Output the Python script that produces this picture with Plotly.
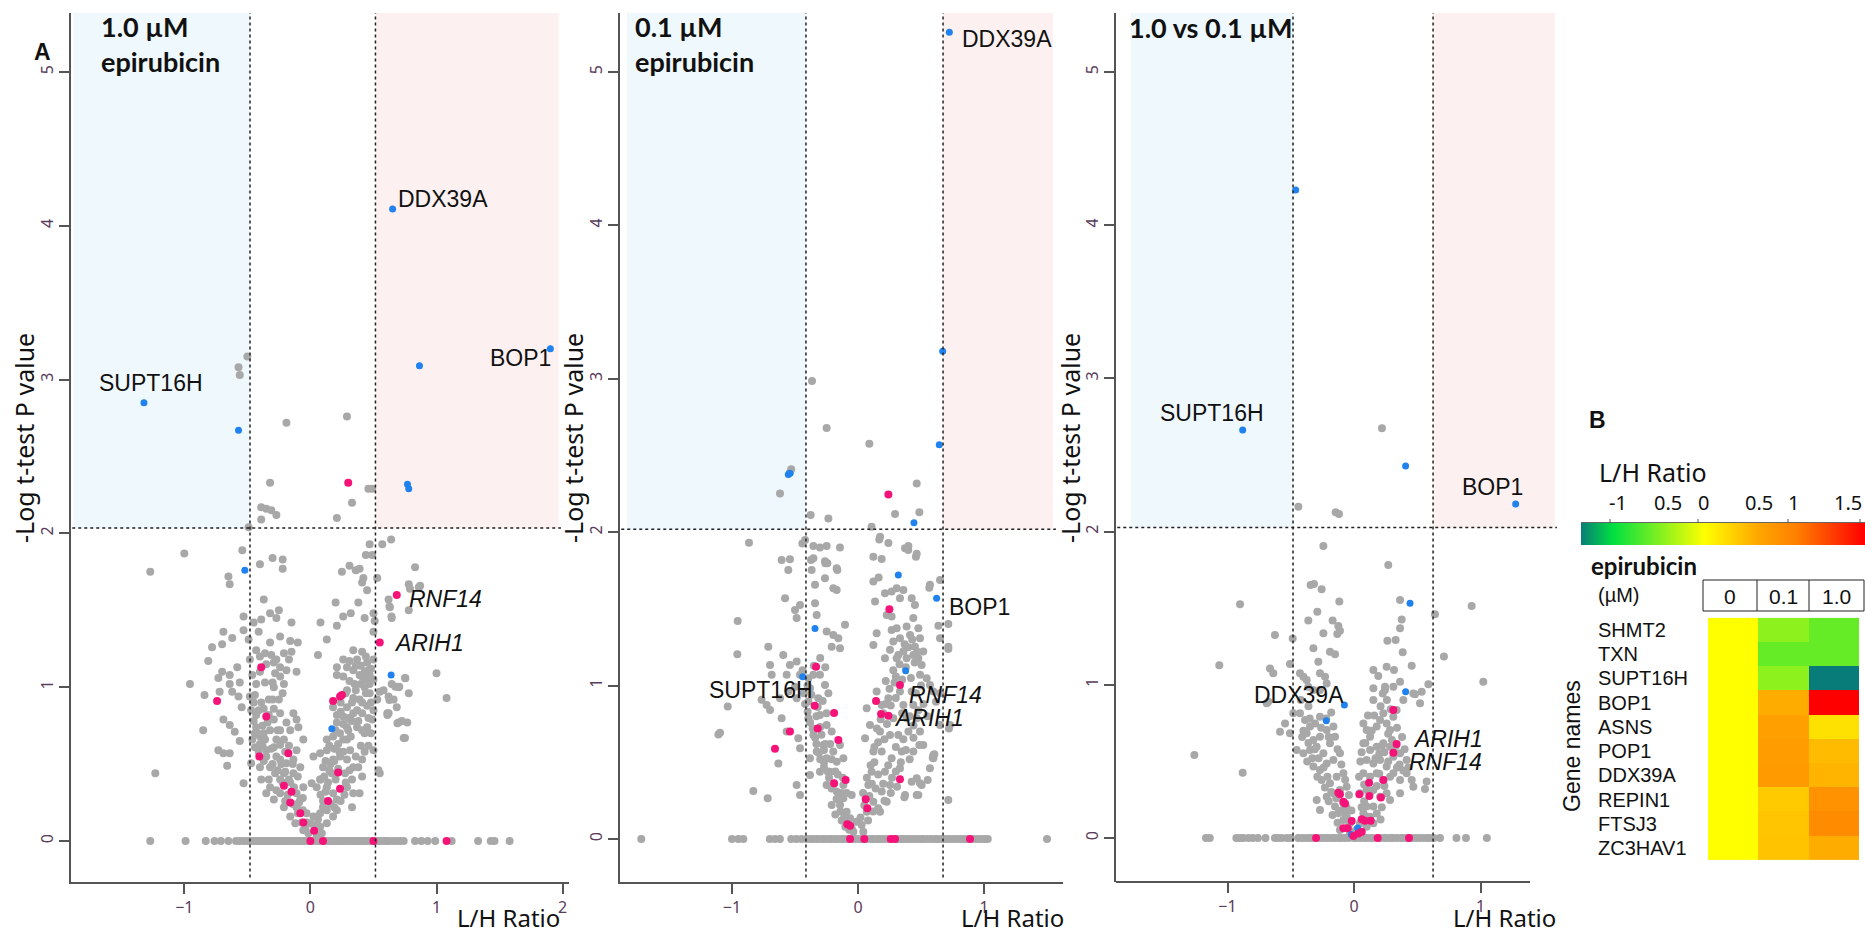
import plotly.graph_objects as go

W, H = 1865, 935
def fx(p):
    return p / W
def fy(p):
    return 1 - p / H

# ---------------- DATA ----------------
# Panel 1: 1.0 uM epirubicin  (L/H ratio, -log p)
p1_grey = [(-0.57,3.08),(-0.56,3.03),(-0.50,3.15),(-0.19,2.72),(0.29,2.76),
(-0.32,2.33),(0.33,2.20),(0.46,2.29),(0.49,2.29),(-0.39,2.17),(-0.35,2.16),(-0.31,2.15),(-0.27,2.12),(-0.39,2.09),(0.21,2.10),(-0.49,2.04),
(-1.27,1.75),(-1.23,0.44),(-1.00,1.87),(-0.54,1.89),(-0.40,1.80),(-0.30,1.84),(-0.22,1.83),(-0.22,1.77),(-0.65,1.72),(-0.64,1.67),(0.47,1.93),(0.57,1.93),(0.64,1.96),(0.49,1.86),(0.44,1.86),(0.83,1.78),(0.25,1.75),(0.31,1.79),(0.36,1.76),(0.53,1.71),(0.78,1.67),(0.86,1.65),(1.00,1.09),(1.08,0.93),(0.74,0.67),
(0.62,1.57),(0.63,1.52),(0.645,1.45),(0.78,1.50),(0.79,1.64),(0.87,1.66),(0.45,1.63),(0.41,1.68),(0.42,1.71),(0.39,1.77),
(-0.53,1.46),(-0.53,1.37),(-0.45,1.42),(-0.37,1.57),(-0.32,1.48),(-0.27,1.45),(-0.25,1.50),(-0.39,1.44),(-0.15,1.42),(0.08,1.42),(0.20,1.55),(0.38,1.55),(0.26,1.46),(0.32,1.48),(0.21,1.40),(0.13,1.31),(0.43,1.45),(0.50,1.48),(0.51,1.43),(0.50,1.36),(-0.69,1.36),(-0.62,1.32),(-0.70,1.28),(-0.78,1.26),(-0.81,1.17),(-0.41,1.36),(-0.49,1.31),(-0.32,1.29),(-0.24,1.33),(-0.16,1.30),(-0.10,1.29),
(-0.43,1.24),(-0.40,1.20),(-0.36,1.22),(-0.31,1.21),(-0.27,1.18),(-0.21,1.22),(-0.17,1.18),(-0.15,1.23),(-0.24,1.13),(-0.29,1.16),(-0.28,1.09),(-0.19,1.11),(-0.11,1.10),(-0.48,1.18),(-0.58,1.13),(-0.64,1.08),(-0.70,1.10),(-0.73,1.06),(-0.56,1.03),(0.06,1.21),(0.21,1.13),(0.26,1.18),(0.29,1.13),(0.31,1.17),(0.34,1.11),(0.37,1.18),(0.41,1.23),(0.34,1.24),(0.45,1.16),(0.50,1.18),(0.46,1.11),(0.39,1.08),(0.21,1.08),(0.26,1.07),(0.41,1.07),(0.75,1.06),(0.58,0.98),(0.645,1.02),
(-0.955,1.02),(-0.84,0.95),(-0.72,0.97),(-0.64,1.02),(-0.62,0.97),(-0.57,0.94),(-0.545,0.87),(-0.48,0.94),(-0.43,1.02),(-0.36,1.03),(-0.24,1.07),(-0.21,1.02),(-0.29,1.00),(-0.37,0.86),(-0.33,0.92),(-0.25,0.92),(0.18,0.87),(0.21,0.82),(0.26,0.81),(0.29,0.87),(0.34,0.93),(0.39,0.92),(0.43,1.00),(0.47,0.96),(0.53,0.92),(0.55,0.97),(0.62,0.94),(0.66,0.92),(0.70,1.00),(0.78,0.96),(0.62,0.83),(0.685,0.87),
(-0.85,0.72),(-0.69,0.79),(-0.64,0.755),(-0.60,0.71),(-0.56,0.65),(-0.47,0.85),(-0.43,0.82),(-0.29,0.79),(-0.24,0.83),(-0.19,0.77),(-0.135,0.83),(-0.11,0.79),(-0.43,0.74),(-0.37,0.70),(-0.32,0.72),(-0.24,0.72),(-0.16,0.72),(-0.095,0.74),(-0.40,0.68),(-0.056,0.66),(0.21,0.77),(0.235,0.70),(0.29,0.74),(0.315,0.79),(0.37,0.74),(0.41,0.72),(0.45,0.74),(0.49,0.79),(0.50,0.85),(0.41,0.83),(0.34,0.83),(0.61,0.83),(0.70,0.77),(0.725,0.78),(0.75,0.67),(0.13,0.66),(0.18,0.68),(0.29,0.66),(0.43,0.70),
(-0.73,0.59),(-0.69,0.57),(-0.64,0.57),(-0.66,0.49),(-0.47,0.505),(-0.44,0.61),(-0.35,0.59),(-0.29,0.61),(-0.24,0.625),(-0.11,0.59),(-0.40,0.48),(-0.32,0.48),(-0.24,0.53),(-0.19,0.505),(-0.135,0.53),(-0.08,0.48),(-0.28,0.44),(-0.21,0.44),(-0.135,0.44),(0.024,0.55),(0.077,0.57),(0.13,0.59),(0.10,0.48),(0.18,0.53),(0.235,0.55),(0.29,0.53),(0.315,0.59),(0.34,0.48),(0.41,0.53),(0.50,0.59),(0.55,0.44),(0.54,0.46),(0.17,0.44),(0.275,0.44),
(-0.53,0.375),(-0.39,0.40),(-0.32,0.35),(-0.24,0.40),(-0.35,0.31),(-0.29,0.27),(-0.24,0.31),(-0.11,0.31),(-0.056,0.35),(0.01,0.375),(-0.08,0.27),(0.077,0.40),(0.13,0.35),(0.18,0.31),(0.29,0.35),(0.34,0.31),(0.39,0.31),(0.41,0.42),(0.33,0.22),(0.21,0.27),(0.10,0.22),(-0.21,0.22),(-0.11,0.22),
(-0.16,0.16),(-0.12,0.115),(-0.03,0.18),(0.0,0.115),(0.024,0.16),(0.077,0.18),(0.13,0.20),(0.077,0.093),(0.13,0.115),(0.18,0.16),(0.21,0.20),(0.05,0.03),(-0.016,0.05),(-0.056,0.07),(0.09,0.05),
(0.674,1.003),(0.705,1.003),(0.627,0.917),(0.611,0.82),(0.69,0.765),(0.768,0.77),(0.753,1.058),(0.643,1.459),(0.627,1.524),
(-0.45,0.78),(-0.42,0.70),(-0.38,0.62),(-0.35,0.55),(-0.30,0.50),(-0.26,0.46),(-0.22,0.38),(-0.18,0.30),(-0.14,0.24),(-0.10,0.18),(-0.07,0.12),(-0.04,0.08),(-0.46,0.66),(-0.41,0.58),(-0.37,0.52),(-0.33,0.40),(-0.27,0.33),(-0.20,0.26),(-0.16,0.38),(-0.20,0.58),(-0.27,0.66),(-0.34,0.77),(-0.39,0.90),(-0.44,0.95),(-0.46,1.08),(-0.40,1.10),(-0.35,1.15),(-0.30,1.03),
(0.03,0.10),(0.06,0.14),(0.10,0.26),(0.14,0.38),(0.16,0.50),(0.19,0.60),(0.22,0.63),(0.26,0.76),(0.30,0.80),(0.33,0.90),(0.36,0.98),(0.40,1.02),(0.44,1.05),(0.47,1.02),(0.48,0.90),(0.46,0.80),(0.38,0.78),(0.32,0.68),(0.26,0.58),(0.22,0.47),(0.20,0.40),(0.16,0.24),(0.12,0.32),(0.24,0.90),(0.28,0.96),(0.31,1.04),(0.36,1.14),(0.43,1.10),(0.48,1.12),(0.50,1.05),(0.45,0.88),(0.40,0.62),(0.36,0.55),(0.31,0.46),(0.27,0.30),
(-0.44,0.70),(-0.40,0.63),(-0.36,0.66),(-0.31,0.60),(-0.27,0.55),(-0.23,0.50),(-0.20,0.45),(-0.17,0.40),(-0.13,0.35),(-0.09,0.25),(-0.06,0.20),(-0.03,0.12),(-0.38,0.75),(-0.33,0.82),(-0.29,0.86),(-0.26,0.72),(-0.21,0.66),(-0.17,0.62),(-0.14,0.50),(-0.10,0.42),(-0.06,0.28),(-0.45,0.90),(-0.41,0.85),(-0.30,0.92),(-0.22,0.96),
(0.05,0.35),(0.08,0.30),(0.11,0.42),(0.15,0.46),(0.19,0.52),(0.23,0.58),(0.26,0.66),(0.30,0.72),(0.33,0.78),(0.37,0.85),(0.41,0.90),(0.44,0.96),(0.47,1.08),(0.44,1.20),(0.40,1.14),(0.35,1.02),(0.29,0.98),(0.24,0.84),(0.20,0.72),(0.15,0.62),(0.12,0.52),(0.08,0.40),(0.48,0.70),(0.46,0.62),(0.43,0.58),(0.38,0.48),(0.33,0.40),(0.28,0.38),(0.24,0.26),(0.19,0.22)]
p1_zero_x = [-1.27,-0.99,-0.83,-0.76,-0.71,-0.65,-0.59,-0.56,-0.53,-0.50,-0.48,-0.46,-0.44,-0.42,-0.40,-0.38,-0.36,-0.34,-0.32,-0.30,-0.28,-0.26,-0.24,-0.22,-0.20,-0.18,-0.16,-0.14,-0.12,-0.10,-0.08,-0.06,-0.04,-0.02,0.02,0.05,0.07,0.12,0.14,0.16,0.18,0.20,0.22,0.24,0.26,0.28,0.30,0.32,0.34,0.36,0.38,0.40,0.42,0.44,0.46,0.48,0.53,0.55,0.58,0.60,0.62,0.65,0.68,0.71,0.74,0.83,0.88,0.93,0.99,1.12,1.33,1.43,1.46,1.58]
p1_blue = [(-1.32,2.85),(-0.57,2.67),(0.652,4.11),(0.865,3.09),(1.903,3.20),(0.77,2.32),(0.78,2.29),(-0.52,1.76),(0.64,1.08),(0.17,0.73)]
p1_pink = [(0.30,2.33),(0.685,1.60),(0.55,1.29),(-0.39,1.13),(-0.74,0.91),(0.18,0.91),(0.235,0.94),(0.25,0.95),(-0.35,0.81),(-0.405,0.55),(-0.175,0.57),(0.22,0.445),(-0.21,0.36),(-0.15,0.32),(-0.16,0.25),(0.14,0.26),(0.235,0.34),(-0.08,0.18),(-0.056,0.12),(0.03,0.067),(0.0,0),(0.10,0),(0.50,0),(1.08,0)]

# Panel 2: 0.1 uM epirubicin
p2_grey = [(-0.365,2.985),(-0.249,2.68),(0.09,2.577),(-0.53,2.41),(-0.54,2.39),(-0.619,2.253),(0.466,2.318),(0.294,2.119),(0.487,2.13),(-0.376,2.112),(-0.235,2.09),(0.108,2.036),
(-0.865,1.932),(-0.606,1.819),(-0.54,1.823),(-0.553,1.754),(-0.442,1.927),(-0.302,1.901),(-0.143,1.901),(-0.373,1.819),(-0.259,1.797),(-0.243,1.797),(-0.164,1.754),(-0.368,1.754),(0.169,1.953),(0.122,1.84),(0.188,1.825),(0.373,1.895),(0.399,1.884),(0.46,1.84),(0.164,1.704),(0.651,1.688),(0.566,1.638),(0.638,1.391),(0.717,1.402),(0.717,1.239),(-0.955,1.421),(-0.958,1.204),(-1.034,0.863),(-1.108,0.682),(-0.831,0.313),(-0.717,0.265),(0.717,0.254),(0.722,0.721),
(-0.42,1.95),(-0.354,1.91),(-0.354,1.83),(-0.262,1.81),(-0.249,1.91),(-0.169,1.765),(-0.262,1.70),(-0.196,1.635),(-0.169,1.624),(-0.341,1.657),(-0.579,1.57),(-0.50,1.493),(-0.487,1.44),(-0.341,1.537),(-0.328,1.46),(-0.46,1.526),(-0.103,1.396),(-0.249,1.352),(-0.196,1.33),(-0.156,1.309),(-0.143,1.243),(-0.209,1.254),(0.175,1.97),(0.241,1.93),(0.4,1.91),(0.466,1.86),(0.122,1.678),(0.214,1.602),(0.267,1.613),(0.307,1.635),(0.36,1.624),(0.333,1.57),(0.426,1.57),(0.452,1.526),(0.439,1.44),(0.571,1.657),(0.135,1.548),(0.228,1.46),(0.267,1.45),(0.148,1.341),(0.122,1.265),(0.267,1.363),(0.307,1.374),(0.386,1.385),(0.28,1.287),(0.333,1.309),(0.413,1.33),(0.492,1.309),(0.479,1.374),(0.452,1.254),(0.254,1.233),(0.214,1.178),(0.307,1.178),(0.36,1.222),(0.386,1.178),(0.439,1.2),(0.479,1.178),(0.505,1.135),(0.518,1.222),(0.651,1.309),(0.717,1.254),
(-1.095,0.693),(-0.712,1.254),(-0.698,1.135),(-0.593,1.2),(-0.54,1.135),(-0.566,1.07),(-0.685,1.07),(-0.765,0.907),(-0.725,0.874),(-0.698,0.841),(-0.619,0.917),(-0.606,0.787),(-0.553,0.961),(-0.50,0.993),(-0.487,0.917),(-0.46,1.07),(-0.487,1.157),(-0.394,1.048),(-0.354,1.07),(-0.381,0.983),(-0.302,1.07),(-0.262,1.004),(-0.235,0.95),(-0.315,0.917),(-0.566,0.70),(-0.474,0.657),(-0.46,0.591),(-0.632,0.493),(-0.487,0.352),(-0.46,0.287),(-0.394,0.896),(-0.394,0.787),(-0.354,0.678),(-0.302,0.809),(-0.249,0.743),(-0.209,0.70),(-0.275,0.613),(-0.381,0.526),(-0.328,0.57),(-0.249,0.526),(-0.196,0.57),(-0.143,0.613),(-0.381,0.417),(-0.302,0.439),(-0.222,0.439),(-0.169,0.504),(-0.116,0.526),(-0.249,0.352),(-0.169,0.309),(-0.116,0.352),(-0.209,0.222),(-0.143,0.222),(-0.09,0.178),(-0.063,0.135),(-0.116,0.265),(-0.05,0.287),(-0.011,0.113),(-0.037,0.048),
(0.069,0.852),(0.095,0.743),(0.056,0.657),(0.122,0.57),(0.108,0.439),(0.082,0.352),(0.122,0.243),(0.069,0.178),(0.029,0.091),(0.042,0.048),(0.148,0.961),(0.188,0.874),(0.175,0.70),(0.188,0.57),(0.214,0.439),(0.188,0.309),(0.241,0.917),(0.28,0.787),(0.254,0.678),(0.267,0.526),(0.254,0.352),(0.175,0.178),(0.333,0.961),(0.36,0.874),(0.386,0.787),(0.32,0.678),(0.347,0.57),(0.333,0.461),(0.426,0.961),(0.439,0.874),(0.466,0.787),(0.492,0.70),(0.518,0.613),(0.439,0.57),(0.492,1.07),(0.545,1.048),(0.571,1.004),(0.598,0.961),(0.598,0.548),(0.598,0.526),(0.571,0.461),(0.466,0.396),(0.505,0.352),(0.373,0.287),(0.466,0.287),(0.228,0.243),(0.73,0.743),(0.651,0.743),(0.368,0.272),(0.479,0.287),(0.553,0.385),(0.426,0.374),(0.492,0.363),(0.593,0.53),(0.606,0.552),(0.487,0.613),(0.651,0.95),(0.619,0.895),
(-0.18,0.16),(-0.13,0.12),(-0.10,0.08),(-0.07,0.06),(-0.15,0.28),(-0.19,0.36),(-0.23,0.40),(-0.27,0.47),(-0.30,0.52),(-0.33,0.62),(-0.36,0.72),(-0.40,0.83),(-0.43,0.95),(-0.27,0.58),(-0.22,0.62),(-0.18,0.44),(-0.12,0.40),(-0.09,0.30),(-0.32,0.86),(-0.28,0.90),(-0.25,0.82),(-0.30,0.73),(-0.40,1.00),(-0.35,1.13),(-0.30,1.18),(-0.26,1.12),
(0.02,0.14),(0.05,0.22),(0.09,0.28),(0.14,0.33),(0.16,0.42),(0.13,0.50),(0.16,0.63),(0.21,0.65),(0.23,0.75),(0.20,0.82),(0.26,0.87),(0.30,0.92),(0.29,1.02),(0.35,1.04),(0.38,1.12),(0.42,1.05),(0.45,1.15),(0.40,0.70),(0.36,0.65),(0.30,0.60),(0.24,0.48),(0.27,0.40),(0.31,0.34),(0.20,0.36),(0.40,1.25),(0.33,1.14),(0.28,1.10),(0.22,1.03),(0.46,0.95),(0.52,0.88),(0.55,0.80),(0.41,0.52),(0.08,0.12),(0.12,0.18),
(-0.42,0.88),(-0.38,0.76),(-0.34,0.66),(-0.31,0.56),(-0.27,0.50),(-0.24,0.44),(-0.21,0.33),(-0.17,0.26),(-0.14,0.18),(-0.11,0.14),(-0.08,0.10),(-0.05,0.07),(-0.44,1.10),(-0.37,0.94),(-0.33,0.80),(-0.29,0.68),(-0.26,0.62),(-0.21,0.52),(-0.16,0.42),(-0.13,0.30),
(0.04,0.30),(0.07,0.40),(0.10,0.48),(0.13,0.60),(0.15,0.72),(0.18,0.78),(0.22,0.88),(0.25,0.98),(0.30,1.06),(0.32,1.20),(0.37,1.27),(0.43,1.30),(0.47,1.22),(0.50,1.00),(0.48,0.84),(0.44,0.66),(0.38,0.58),(0.34,0.50),(0.30,0.44),(0.26,0.30),(0.21,0.25),(0.16,0.20),(0.11,0.36),(0.35,0.82),(0.41,0.80),(0.44,0.74)]
p2_zero_x = [-1.72,-1.00,-0.95,-0.91,-0.70,-0.66,-0.62,-0.53,-0.49,-0.45,-0.41,-0.38,-0.36,-0.33,-0.31,-0.28,-0.26,-0.23,-0.21,-0.18,-0.16,-0.13,-0.11,-0.08,-0.04,-0.02,0.01,0.03,0.07,0.10,0.12,0.15,0.17,0.20,0.23,0.28,0.31,0.34,0.36,0.39,0.41,0.44,0.47,0.50,0.52,0.55,0.58,0.61,0.63,0.66,0.69,0.72,0.75,0.78,0.81,0.84,0.86,0.92,0.95,0.98,1.01,1.03,1.50]
p2_blue = [(0.725,5.26),(0.672,3.18),(0.645,2.57),(-0.553,2.377),(-0.54,2.384),(0.444,2.062),(0.32,1.721),(0.624,1.569),(-0.341,1.373),(-0.439,1.058),(0.378,1.097)]
p2_pink = [(0.241,2.245),(0.249,1.497),(-0.333,1.123),(0.333,1.004),(-0.344,0.869),(-0.19,0.821),(0.143,0.90),(0.183,0.815),(0.241,0.804),(-0.32,0.721),(-0.54,0.70),(-0.659,0.589),(-0.156,0.645),(-0.19,0.363),(-0.098,0.385),(0.333,0.389),(0.061,0.259),(0.074,0.20),(-0.085,0.096),(-0.063,0.087),(-0.063,0),(0.05,0),(0.26,0),(0.294,0),(0.889,0)]

# Panel 3: 1.0 vs 0.1 uM
p3_grey = [(0.221,2.674),(-0.44,2.163),(-0.145,2.126),(-0.119,2.115),(-0.242,1.906),(0.271,1.782),(-0.343,1.651),(-0.316,1.658),(-0.256,1.623),(-0.901,1.525),(-0.116,1.543),(0.93,1.514),(0.364,1.553),(-0.29,1.477),(-0.361,1.419),(-0.169,1.419),(0.377,1.427),(0.64,1.46),(-0.124,1.384),(-0.111,1.353),(-0.132,1.332),(-0.242,1.336),(-0.625,1.325),(-0.485,1.303),(0.364,1.369),(0.264,1.288),(0.329,1.292),(-0.321,1.238),(-0.19,1.216),(-0.15,1.199),(0.711,1.184),(0.385,1.212),(-0.282,1.151),(-0.506,1.136),(-1.065,1.127),(-0.664,1.107),(-0.638,1.075),(0.153,1.097),(0.258,1.118),(0.316,1.097),(0.456,1.125),(0.192,1.057),(0.245,0.988),(1.022,1.02),(0.588,1.003),(0.535,0.955),(0.482,0.938),(0.522,0.879),(0.39,0.901),(0.153,0.977),(0.153,0.901),
(-0.427,1.075),(-0.40,1.053),(-0.374,1.031),(-0.361,0.988),(-0.321,0.966),(-0.269,1.075),(-0.229,1.053),(-0.216,1.009),(-0.269,0.966),(-0.677,0.89),(-0.69,0.879),(-0.585,0.694),(-0.545,0.748),(-1.262,0.542),(-0.88,0.426),(0.574,0.368),(0.561,0.32),
(0.245,0.966),(0.227,0.944),(0.311,0.988),(0.364,1.02),(0.469,0.944),(-0.48,0.814),(-0.506,0.683),
(-0.427,0.814),(-0.387,0.77),(-0.348,0.727),(-0.308,0.748),(-0.269,0.792),(-0.374,0.683),(-0.321,0.64),(-0.269,0.661),(-0.216,0.705),(-0.163,0.727),(-0.453,0.574),(-0.4,0.553),(-0.348,0.574),(-0.295,0.596),(-0.242,0.553),(-0.19,0.618),(-0.15,0.661),(-0.321,0.466),(-0.269,0.444),(-0.216,0.487),(-0.163,0.509),(-0.111,0.553),(-0.256,0.379),(-0.19,0.357),(-0.137,0.4),(-0.084,0.422),(-0.163,0.292),(-0.111,0.313),(-0.058,0.335),(-0.216,0.27),(-0.295,0.248),(-0.269,0.183),(-0.15,0.205),(-0.124,0.161),(-0.084,0.226),(-0.058,0.139),(-0.084,0.117),(-0.045,0.074),(-0.111,0.052),
(0.074,0.748),(0.1,0.705),(0.127,0.661),(0.179,0.727),(0.206,0.77),(0.232,0.814),(0.258,0.748),(0.285,0.705),(0.311,0.792),(0.337,0.836),(0.074,0.618),(0.127,0.574),(0.179,0.596),(0.232,0.618),(0.285,0.596),(0.311,0.531),(0.364,0.553),(0.416,0.509),(0.311,0.422),(0.258,0.466),(0.206,0.509),(0.153,0.487),(0.1,0.509),(0.074,0.422),(0.127,0.4),(0.179,0.422),(0.232,0.379),(0.285,0.4),(0.1,0.313),(0.047,0.292),(0.153,0.313),(0.206,0.27),(0.258,0.292),(0.1,0.205),(0.074,0.161),(0.127,0.139),(0.153,0.205),(0.047,0.096),(0.1,0.074),(0.153,0.096),(0.021,0.052),(0.364,0.379),(0.416,0.422),(0.456,0.379),(0.364,0.292),(0.285,0.248),(0.469,0.335),
(-0.005,0.041),(-0.032,0.03),(0.034,0.03),
(-0.40,0.70),(-0.36,0.62),(-0.33,0.52),(-0.29,0.40),(-0.23,0.33),(-0.20,0.24),(-0.17,0.15),(-0.13,0.10),(-0.06,0.20),(-0.03,0.10),(-0.22,0.78),(-0.18,0.82),(-0.42,0.90),(-0.36,0.86),
(0.06,0.20),(0.08,0.35),(0.05,0.50),(0.12,0.70),(0.16,0.80),(0.21,0.86),(0.26,0.90),(0.29,0.84),(0.34,0.72),(0.38,0.66),(0.34,0.46),(0.40,0.58),(0.20,0.55),(0.24,0.34),(0.18,0.16),(0.22,0.20),
(-0.41,0.66),(-0.35,0.78),(-0.31,0.58),(-0.28,0.52),(-0.24,0.46),(-0.21,0.40),(-0.18,0.30),(-0.14,0.26),(-0.10,0.18),(-0.07,0.16),(-0.37,0.50),(-0.26,0.72),(-0.20,0.66),(-0.13,0.58),(-0.10,0.48),(-0.07,0.38),(-0.04,0.28),(-0.02,0.18),
(0.04,0.40),(0.06,0.56),(0.09,0.62),(0.11,0.80),(0.14,0.70),(0.17,0.52),(0.20,0.42),(0.22,0.60),(0.27,0.68),(0.30,0.64),(0.33,0.60),(0.36,0.48),(0.39,0.44),(0.43,0.46),(0.27,0.50),(0.24,0.56),(0.13,0.30),(0.08,0.24),(0.18,0.34),(0.21,0.12),(0.10,0.14)]
p3_zero_x = [-1.17,-1.14,-0.93,-0.90,-0.875,-0.835,-0.80,-0.76,-0.70,-0.625,-0.60,-0.57,-0.53,-0.50,-0.44,-0.41,-0.38,-0.35,-0.33,-0.27,-0.25,-0.22,-0.20,-0.17,-0.15,-0.12,-0.10,-0.07,-0.04,0.0,0.02,0.05,0.08,0.10,0.13,0.15,0.21,0.24,0.26,0.29,0.31,0.34,0.37,0.39,0.42,0.46,0.49,0.52,0.55,0.58,0.60,0.63,0.68,0.81,0.885,1.05]
p3_blue = [(-0.461,4.23),(-0.88,2.663),(0.408,2.428),(1.278,2.18),(0.443,1.532),(0.408,0.955),(-0.076,0.868),(-0.219,0.766),(0.029,0.065),(-0.021,0.023)]
p3_pink = [(0.311,0.836),(0.337,0.614),(0.311,0.557),(0.119,0.361),(0.232,0.379),(-0.124,0.296),(-0.111,0.285),(-0.084,0.237),(-0.071,0.226),(0.042,0.285),(0.121,0.274),(0.213,0.265),(-0.018,0.111),(0.061,0.122),(0.087,0.113),(0.132,0.113),(-0.084,0.063),(-0.05,0.063),(-0.005,0.013),(0.034,0.03),(0.061,0.041),(-0.30,0),(0.187,0),(0.435,0)]

# Gene labels: (text, x, y, xanchor, xshift, yshift, italic)
p1_labels = [("SUPT16H",-1.32,2.85,"center",7,20,False),("DDX39A",0.652,4.11,"left",3,10,False),
             ("BOP1",1.903,3.20,"right",3,-9,False),("RNF14",0.685,1.60,"left",10,-4,True),("ARIH1",0.55,1.29,"left",12,0,True)]
p2_labels = [("DDX39A",0.725,5.26,"left",11,-7,False),("SUPT16H",-0.439,1.058,"right",12,-13,False),
             ("BOP1",0.624,1.569,"left",10,-9,False),("RNF14",0.333,1.004,"left",7,-10,True),("ARIH1",0.241,0.804,"left",4,-2,True)]
p3_labels = [("SUPT16H",-0.88,2.663,"center",-31,17,False),("BOP1",1.278,2.18,"center",-23,17,False),
             ("DDX39A",-0.076,0.868,"right",2,10,False),("ARIH1",0.337,0.614,"left",14,5,True),("RNF14",0.311,0.557,"left",14,-9,True)]

panel_titles = ["<b>1.0 µM<br>epirubicin</b>", "<b>0.1 µM<br>epirubicin</b>", "<b>1.0 vs 0.1 µM</b>"]
x_ticks = [[-1, 0, 1, 2], [-1, 0, 1], [-1, 0, 1]]
fc_cut = [(-0.479, 0.516), (-0.413, 0.675), (-0.482, 0.625)]
p_cut = [2.035, 2.02, 2.027]

# Heatmap (panel B)
genes = ["SHMT2","TXN","SUPT16H","BOP1","ASNS","POP1","DDX39A","REPIN1","FTSJ3","ZC3HAV1"]
conc = ["0","0.1","1.0"]
ratio_0 = [0,0,0,0,0,0,0,0,0,0]
ratio_01 = [-0.45,-0.6,-0.45,0.55,0.65,0.7,0.72,0.35,0.38,0.4]
ratio_10 = [-0.6,-0.6,-1.35,1.75,0.2,0.45,0.5,0.8,0.88,0.55]
cbar_labels = ["-1","0.5","0","0.5","1","1.5"]

# ---------------- LAYOUT GEOMETRY ----------------
panels = [
    dict(xd=(71,569), xr=(-1.8985,2.0508), yr=(-0.2666,5.3836), blue_l=-1.88, pink_r=1.969, hl_r=1.987, ax_end=None,
         title_px=(99,44), ytitle_px=24, xtitle_px=561),
    dict(xd=(620,1063), xr=(-1.8889,1.6270), yr=(-0.2803,5.3847), blue_l=-1.833, pink_r=1.548, hl_r=1.571, ax_end=None,
         title_px=(633,44), ytitle_px=573, xtitle_px=1065),
    dict(xd=(1116,1557), xr=(-1.8814,1.6047), yr=(-0.2872,5.3851), blue_l=-1.763, pink_r=1.589, hl_r=1.604, ax_end=1.3913,
         title_px=(1127,28), ytitle_px=1070, xtitle_px=1557),
]
YD = (13, 882)

GREY, BLUE, PINK = "#a8a8a8", "#1f82ee", "#f5137a"
TICKC = "#5a3d5a"
LABEL_FONT = "Liberation Sans, Arial, sans-serif"
TITLE_FONT = "Lato, Calibri, sans-serif"
AX_FONT = "Noto Sans, Segoe UI, sans-serif"

fig = go.Figure()
shapes, annotations = [], []
data_sets = [(p1_grey, p1_zero_x, p1_blue, p1_pink, p1_labels),
             (p2_grey, p2_zero_x, p2_blue, p2_pink, p2_labels),
             (p3_grey, p3_zero_x, p3_blue, p3_pink, p3_labels)]

for i, (pan, ds) in enumerate(zip(panels, data_sets)):
    grey, zx, blue, pink, labels = ds
    xa = "x" if i == 0 else f"x{i+1}"
    ya = "y" if i == 0 else f"y{i+1}"
    xr, yr = pan["xr"], pan["yr"]
    lo, hi = fc_cut[i]
    pc = p_cut[i]
    shapes.append(dict(type="rect", xref=xa, yref=ya, x0=pan["blue_l"], x1=lo, y0=pc, y1=yr[1],
                       fillcolor="#eff8fc", line=dict(width=0), layer="below"))
    shapes.append(dict(type="rect", xref=xa, yref=ya, x0=hi, x1=pan["pink_r"], y0=pc, y1=yr[1],
                       fillcolor="#fdf0f0", line=dict(width=0), layer="below"))
    for v in (lo, hi):
        shapes.append(dict(type="line", xref=xa, yref=ya, x0=v, x1=v, y0=yr[0] + 0.03, y1=yr[1],
                           line=dict(color="#222", width=1.5, dash="dot"), layer="above"))
    shapes.append(dict(type="line", xref=xa, yref=ya, x0=xr[0] + 0.01, x1=pan["hl_r"], y0=pc, y1=pc,
                       line=dict(color="#222", width=1.5, dash="dot"), layer="above"))
    if pan["ax_end"] is not None:
        shapes.append(dict(type="line", xref=xa, yref="paper", x0=xr[0], x1=pan["ax_end"],
                           y0=fy(YD[1]), y1=fy(YD[1]), line=dict(color="#555", width=2)))

    gx = [p[0] for p in grey] + zx
    gy = [p[1] for p in grey] + [0] * len(zx)
    fig.add_trace(go.Scatter(x=gx, y=gy, mode="markers", xaxis=xa, yaxis=ya, hoverinfo="skip",
                             marker=dict(color=GREY, size=8, line=dict(width=0)), showlegend=False))
    fig.add_trace(go.Scatter(x=[p[0] for p in blue], y=[p[1] for p in blue], mode="markers", xaxis=xa, yaxis=ya,
                             hoverinfo="skip", marker=dict(color=BLUE, size=7, line=dict(width=0)), showlegend=False))
    fig.add_trace(go.Scatter(x=[p[0] for p in pink], y=[p[1] for p in pink], mode="markers", xaxis=xa, yaxis=ya,
                             hoverinfo="skip", marker=dict(color=PINK, size=8, line=dict(width=0)), showlegend=False))

    sfx = "" if i == 0 else str(i + 1)
    fig.update_layout(**{
        f"xaxis{sfx}": dict(domain=[fx(pan["xd"][0]), fx(pan["xd"][1])], range=list(xr), anchor=ya,
                            showgrid=False, zeroline=False, showline=pan["ax_end"] is None, linecolor="#555", linewidth=2,
                            ticks="outside", ticklen=10, tickwidth=1.5, tickcolor="#555", tickvals=x_ticks[i],
                            tickfont=dict(size=16, color=TICKC, family=AX_FONT), fixedrange=True),
        f"yaxis{sfx}": dict(domain=[fy(YD[1]), fy(YD[0])], range=list(yr), anchor=xa,
                            showgrid=False, zeroline=False, showline=True, linecolor="#555", linewidth=2,
                            ticks="outside", ticklen=10, tickwidth=1.5, tickcolor="#555", tickvals=[0, 1, 2, 3, 4, 5],
                            tickangle=-90, tickfont=dict(size=16, color=TICKC, family=AX_FONT), fixedrange=True),
    })
    for (t, lx, ly, anc, xs, ys, it) in labels:
        annotations.append(dict(x=lx, y=ly, xref=xa, yref=ya, text=f"<i>{t}</i>" if it else t, showarrow=False,
                                xanchor=anc, yanchor="middle", xshift=xs, yshift=ys,
                                font=dict(size=23, color="#111", family=LABEL_FONT)))
    tx, ty = pan["title_px"]
    annotations.append(dict(x=fx(tx), y=fy(ty), xref="paper", yref="paper", text=panel_titles[i], showarrow=False,
                            xanchor="left", yanchor="middle", align="left",
                            font=dict(size=27, color="#111", family=TITLE_FONT)))
    annotations.append(dict(x=fx(pan["ytitle_px"]), y=fy(438), xref="paper", yref="paper", text="-Log t-test P value",
                            showarrow=False, textangle=-90, xanchor="center", yanchor="middle",
                            font=dict(size=25, color="#111", family=AX_FONT)))
    annotations.append(dict(x=fx(pan["xtitle_px"]), y=0, xref="paper", yref="paper", text="L/H Ratio",
                            showarrow=False, xanchor="right", yanchor="bottom", borderpad=0,
                            font=dict(size=24, color="#111", family=AX_FONT)))

annotations.append(dict(x=fx(32), y=fy(37), xref="paper", yref="paper", text="<b>A</b>", showarrow=False,
                        font=dict(size=23, color="#111", family=LABEL_FONT)))

# ---------------- HEATMAP ----------------
cscale = [[0.0, "#087c78"], [0.113, "#00e040"], [0.435, "#ffff00"], [0.629, "#ffa500"],
          [0.758, "#ff8000"], [1.0, "#ff0000"]]
zmat = [[a, b, c] for a, b, c in zip(ratio_0, ratio_01, ratio_10)]
fig.add_trace(go.Heatmap(z=zmat, x=conc, y=genes, xaxis="x4", yaxis="y4", colorscale=cscale, zmin=-1.35, zmax=1.75,
                         hoverinfo="skip",
                         colorbar=dict(orientation="h", x=fx(1581), xanchor="left", y=fy(523), yanchor="top",
                                       len=284, lenmode="pixels", thickness=22, thicknessmode="pixels",
                                       outlinewidth=0, showticklabels=False, ticks="", xpad=0, ypad=0)))
fig.update_layout(
    xaxis4=dict(domain=[fx(1708), fx(1859)], anchor="y4", showticklabels=False, showgrid=False, zeroline=False,
                ticks="", fixedrange=True),
    yaxis4=dict(domain=[fy(861), fy(617)], anchor="x4", showticklabels=False, showgrid=False, zeroline=False,
                ticks="", autorange="reversed", fixedrange=True),
)
for g in genes:
    annotations.append(dict(x=fx(1596), y=g, xref="paper", yref="y4", text=g, showarrow=False, xanchor="left",
                            yanchor="middle", font=dict(size=20, color="#111", family=LABEL_FONT)))
shapes.append(dict(type="line", xref="paper", yref="paper", x0=fx(1581), x1=fx(1865), y0=fy(523), y1=fy(523),
                   line=dict(color="#333", width=1.5)))
for tpx in (1610, 1698, 1788, 1860):
    shapes.append(dict(type="line", xref="paper", yref="paper", x0=fx(tpx), x1=fx(tpx), y0=fy(523), y1=fy(519),
                       line=dict(color="#555", width=1)))
for lab, lpx in zip(cbar_labels, [1618, 1668, 1703, 1759, 1793, 1848]):
    annotations.append(dict(x=fx(lpx), y=fy(502), xref="paper", yref="paper", text=lab, showarrow=False,
                            xanchor="center", yanchor="middle", borderpad=0,
                            font=dict(size=20, color="#111", family=AX_FONT)))
annotations.append(dict(x=fx(1597), y=fy(472), xref="paper", yref="paper", text="L/H Ratio", showarrow=False,
                        xanchor="left", yanchor="middle", font=dict(size=25, color="#111", family=AX_FONT)))
annotations.append(dict(x=fx(1608), y=fy(420), xref="paper", yref="paper", text="<b>B</b>", showarrow=False,
                        font=dict(size=23, color="#111", family=LABEL_FONT)))
annotations.append(dict(x=fx(1589), y=fy(565), xref="paper", yref="paper", text="<b>epirubicin</b>", showarrow=False,
                        xanchor="left", yanchor="middle", font=dict(size=24, color="#111", family=TITLE_FONT)))
annotations.append(dict(x=fx(1596), y=fy(595), xref="paper", yref="paper", text="(µM)", showarrow=False,
                        xanchor="left", yanchor="middle", font=dict(size=20, color="#111", family=LABEL_FONT)))
annotations.append(dict(x=fx(1572), y=fy(746), xref="paper", yref="paper", text="Gene names", showarrow=False,
                        textangle=-90, xanchor="center", yanchor="middle",
                        font=dict(size=23, color="#111", family=LABEL_FONT)))
shapes.append(dict(type="rect", xref="paper", yref="paper", x0=fx(1703), x1=fx(1864), y0=fy(611), y1=fy(580),
                   line=dict(color="#222", width=1)))
for dpx in (1757, 1809):
    shapes.append(dict(type="line", xref="paper", yref="paper", x0=fx(dpx), x1=fx(dpx), y0=fy(611), y1=fy(580),
                       line=dict(color="#222", width=1)))
for c, cpx in zip(conc, [1730, 1783, 1836.5]):
    annotations.append(dict(x=fx(cpx), y=fy(596), xref="paper", yref="paper", text=c, showarrow=False,
                            xanchor="center", yanchor="middle", font=dict(size=21, color="#111", family=LABEL_FONT)))

fig.update_layout(width=W, height=H, margin=dict(l=0, r=0, t=0, b=0), paper_bgcolor="white", plot_bgcolor="rgba(0,0,0,0)",
                  shapes=shapes, annotations=annotations, showlegend=False)
fig.write_html("out.html", config={"displayModeBar": False},
               post_script="document.body.style.margin='0px';document.body.style.overflow='hidden';")
